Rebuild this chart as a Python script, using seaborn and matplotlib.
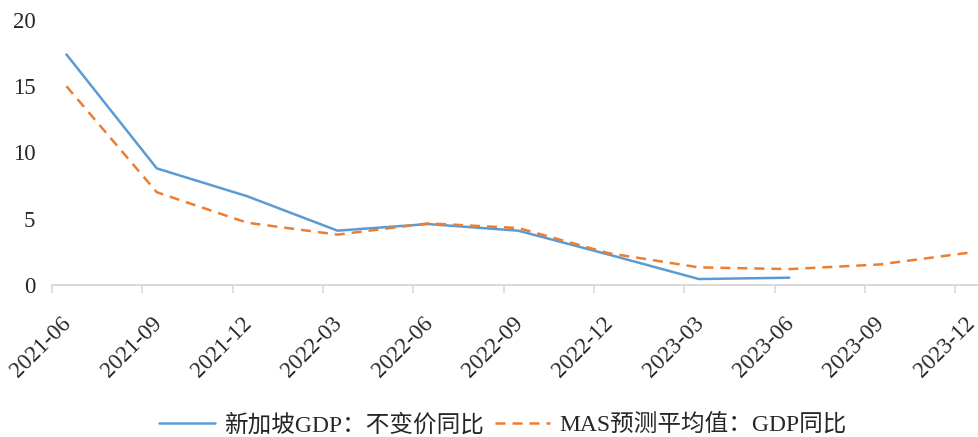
import numpy as np
import pandas as pd
import matplotlib.pyplot as plt
import seaborn as sns

# Quarterly categories on the x axis
quarters = ['2021-06', '2021-09', '2021-12', '2022-03', '2022-06', '2022-09',
            '2022-12', '2023-03', '2023-06', '2023-09', '2023-12']

# Singapore real GDP yoy (actual), ends at 2023-06
gdp_actual = [17.4, 8.8, 6.7, 4.1, 4.6, 4.1, 2.3, 0.45, 0.55]
# MAS survey mean forecast, GDP yoy
mas_forecast = [15.0, 7.0, 4.7, 3.8, 4.65, 4.3, 2.4, 1.33, 1.2, 1.55, 2.45]

label_actual = '新加坡GDP：不变价同比'
label_mas = 'MAS预测平均值：GDP同比'

sns.set_theme(style='white')
plt.rcParams['font.family'] = ['Liberation Serif', 'Noto Sans CJK SC']

# points sit a little to the right of each tick, like the original chart
offset = 0.16
shift = 0.12   # labels sit a bit left of their tick mark
step = 90.35   # pixels per quarter
df_a = pd.DataFrame({'x': np.arange(len(gdp_actual)) + offset, 'y': gdp_actual})
df_m = pd.DataFrame({'x': np.arange(len(mas_forecast)) + offset, 'y': mas_forecast})

fig = plt.figure(figsize=(9.79, 4.37), dpi=100)
left_px = 52 - shift * step
ax = fig.add_axes([left_px / 979, 152 / 437, (979 - left_px) / 979, 265 / 437])

sns.lineplot(data=df_a, x='x', y='y', ax=ax, color='#5b9bd5', linewidth=1.8,
             label=label_actual)
sns.lineplot(data=df_m, x='x', y='y', ax=ax, color='#ed7d31', linewidth=1.8,
             label=label_mas)
ax.lines[1].set_dashes([4, 2.8])

ax.set_yticks([0, 5, 10, 15, 20])

# tick marks on minor ticks, labels on major ticks nudged left
ticks = np.arange(len(quarters))
ax.set_xticks(ticks, minor=True)
ax.set_xticks(ticks - shift)
ax.set_xticklabels(quarters, rotation=45, ha='center', fontsize=16.5)
ax.tick_params(axis='y', length=0, pad=12 - shift * step * 0.72, labelsize=16.5)
ax.tick_params(axis='x', which='major', length=0, pad=20)
ax.tick_params(axis='x', which='minor', length=6, width=1.2, color='#d9d9d9',
               direction='out', bottom=True)
xmax = 927 / step
ax.set_xlim(-shift, xmax)
ax.set_ylim(0, 20)
ax.set_xlabel('')
ax.set_ylabel('')

for s in ['top', 'right', 'left']:
    ax.spines[s].set_visible(False)
ax.spines['bottom'].set_color('#d9d9d9')
ax.spines['bottom'].set_linewidth(1.4)
ax.spines['bottom'].set_bounds(0, xmax)

handles, labels = ax.get_legend_handles_labels()
ax.legend_.remove()
fig.legend(handles, labels, loc='center', bbox_to_anchor=(503 / 979, 12 / 437),
           ncol=2, frameon=False, fontsize=17, handlelength=2.35,
           handletextpad=0.4, columnspacing=0.45)

fig.savefig('out.png', dpi=100)
